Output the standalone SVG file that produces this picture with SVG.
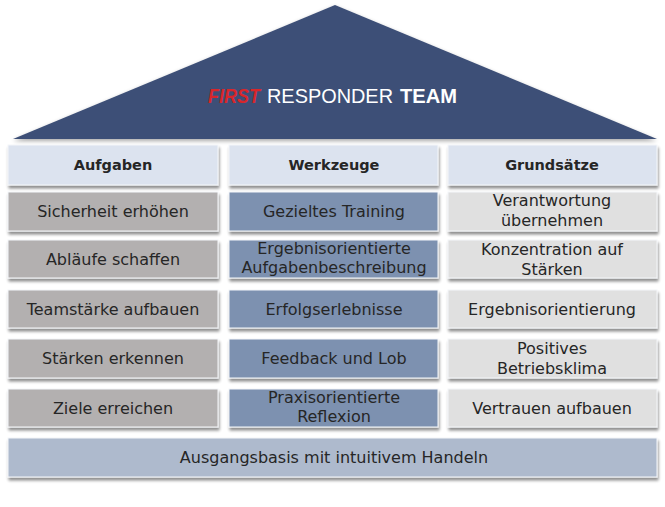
<svg xmlns="http://www.w3.org/2000/svg" width="665" height="507" viewBox="0 0 665 507">
<defs>
<filter id="sh" x="-5%" y="-20%" width="110%" height="150%">
<feGaussianBlur in="SourceAlpha" stdDeviation="1.5"/>
<feOffset dx="1" dy="3" result="b"/>
<feComponentTransfer><feFuncA type="linear" slope="0.45"/></feComponentTransfer>
<feMerge><feMergeNode/><feMergeNode in="SourceGraphic"/></feMerge>
</filter>
<filter id="rs" x="-5%" y="-5%" width="110%" height="115%">
<feGaussianBlur in="SourceAlpha" stdDeviation="2"/>
<feOffset dx="0" dy="2"/>
<feComponentTransfer><feFuncA type="linear" slope="0.35"/></feComponentTransfer>
<feMerge><feMergeNode/><feMergeNode in="SourceGraphic"/></feMerge>
</filter>
</defs>
<style>
rect{filter:url(#sh);stroke:#f4f6f9;stroke-width:1}
.h{fill:#dce3ef}
.a{fill:#b3b0b0}
.w{fill:#7d91b0}
.g{fill:#e0e0e0}
.b{fill:#aebacd}
text{font-family:"DejaVu Sans","Liberation Sans",sans-serif;font-size:16px;fill:#262626;text-anchor:middle}
.ht{font-weight:bold;font-size:14.5px}
.t{font-family:"Liberation Sans",Arial,sans-serif;font-size:21px;fill:#fff;text-anchor:start}
</style>
<rect width="665" height="507" fill="#ffffff" style="filter:none;stroke:none"/>
<g id="roof">
<polygon points="335,5 657,139 13,139" fill="#3e5077" filter="url(#rs)"/>
<text class="t" x="208" y="103" textLength="52" lengthAdjust="spacingAndGlyphs" style="fill:#d8262b;font-weight:bold;font-style:italic">FIRST</text>
<text class="t" x="267" y="103" textLength="126" lengthAdjust="spacingAndGlyphs">RESPONDER</text>
<text class="t" x="400" y="103" textLength="57" lengthAdjust="spacingAndGlyphs" style="font-weight:bold">TEAM</text>
</g>
<g id="h1"><rect class="h" x="8" y="145" width="210" height="40"/><text class="ht" x="113" y="170">Aufgaben</text></g>
<g id="h2"><rect class="h" x="229" y="145" width="209" height="40"/><text class="ht" x="334" y="170">Werkzeuge</text></g>
<g id="h3"><rect class="h" x="448" y="145" width="209" height="40"/><text class="ht" x="552" y="170">Grundsätze</text></g>

<g id="a1"><rect class="a" x="8" y="192" width="210" height="39"/><text x="113" y="217">Sicherheit erhöhen</text></g>
<g id="a2"><rect class="a" x="8" y="240" width="210" height="38"/><text x="113" y="265">Abläufe schaffen</text></g>
<g id="a3"><rect class="a" x="8" y="290" width="210" height="38"/><text x="113" y="315">Teamstärke aufbauen</text></g>
<g id="a4"><rect class="a" x="8" y="339" width="210" height="39"/><text x="113" y="364">Stärken erkennen</text></g>
<g id="a5"><rect class="a" x="8" y="389" width="210" height="38"/><text x="113" y="414">Ziele erreichen</text></g>

<g id="w1"><rect class="w" x="229" y="192" width="209" height="39"/><text x="334" y="217">Gezieltes Training</text></g>
<g id="w2"><rect class="w" x="229" y="240" width="209" height="38"/><text x="334" y="254">Ergebnisorientierte</text><text x="334" y="273">Aufgabenbeschreibung</text></g>
<g id="w3"><rect class="w" x="229" y="290" width="209" height="38"/><text x="334" y="315">Erfolgserlebnisse</text></g>
<g id="w4"><rect class="w" x="229" y="339" width="209" height="39"/><text x="334" y="364">Feedback und Lob</text></g>
<g id="w5"><rect class="w" x="229" y="389" width="209" height="38"/><text x="334" y="403">Praxisorientierte</text><text x="334" y="422">Reflexion</text></g>

<g id="g1"><rect class="g" x="448" y="192" width="209" height="39"/><text x="552" y="206">Verantwortung</text><text x="552" y="226">übernehmen</text></g>
<g id="g2"><rect class="g" x="448" y="240" width="209" height="38"/><text x="552" y="255">Konzentration auf</text><text x="552" y="275">Stärken</text></g>
<g id="g3"><rect class="g" x="448" y="290" width="209" height="38"/><text x="552" y="315">Ergebnisorientierung</text></g>
<g id="g4"><rect class="g" x="448" y="339" width="209" height="39"/><text x="552" y="354">Positives</text><text x="552" y="374">Betriebsklima</text></g>
<g id="g5"><rect class="g" x="448" y="389" width="209" height="38"/><text x="552" y="414">Vertrauen aufbauen</text></g>

<g id="base"><rect class="b" x="8" y="438" width="649" height="39"/><text x="334" y="463">Ausgangsbasis mit intuitivem Handeln</text></g>
<g id="connectors"/>
</svg>
